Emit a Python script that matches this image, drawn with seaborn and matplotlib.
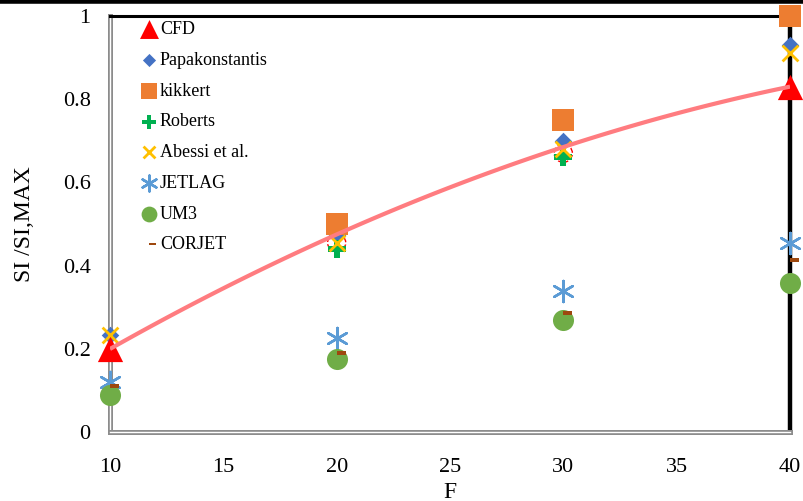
import numpy as np
import pandas as pd
import matplotlib
matplotlib.use("Agg")
import matplotlib.pyplot as plt
import seaborn as sns
from matplotlib.path import Path
from matplotlib.lines import Line2D
import matplotlib.patheffects as pe

# ---------------- data ----------------
F = [10, 20, 30, 40]
cfd_F = [10, 40]
cfd = [0.20, 0.83]
cfd_mid_F = [20, 30]
cfd_mid = [0.455, 0.67]
trend_F = [10, 20, 30, 40]
trend = [0.20, 0.474, 0.686, 0.83]
papakonstantis = [0.233, 0.473, 0.70, 0.93]
kikkert_F = [20, 30, 40]
kikkert = [0.50, 0.75, 1.00]
roberts_F = [20, 30]
roberts = [0.44, 0.66]
abessi = [0.233, 0.455, 0.68, 0.91]
jetlag = [0.12, 0.226, 0.34, 0.455]
um3 = [0.089, 0.175, 0.27, 0.358]
corjet = [0.11, 0.19, 0.285, 0.413]

x_ticks = [10, 15, 20, 25, 30, 35, 40]
y_ticks = [0, 0.2, 0.4, 0.6, 0.8, 1.0]
y_ticklabels = ["0", "0.2", "0.4", "0.6", "0.8", "1"]

# ---------------- style ----------------
sns.set_theme(style="white")
plt.rcParams['font.family'] = ['Liberation Serif', 'DejaVu Serif']

fig = plt.figure(figsize=(8.04, 5.01), dpi=100)
ax = fig.add_axes([0.1368, 0.1377, 0.9826 - 0.1368, 0.968 - 0.1377])

corjet_marker = Path([(0, -0.22), (1, -0.22), (1, 0.22), (0, 0.22), (0, -0.22)],
                     [Path.MOVETO, Path.LINETO, Path.LINETO, Path.LINETO, Path.CLOSEPOLY])

common = dict(ax=ax, clip_on=False, legend=True)

sns.scatterplot(x=cfd_F, y=cfd, marker="^", s=330, color="#FF0000",
                edgecolor="#FF0000", linewidth=0, label="CFD", zorder=4, **common)
sns.scatterplot(x=F, y=papakonstantis, marker="D", s=80, color="#4472C4",
                linewidth=0, label="Papakonstantis", zorder=3, **common)
sns.scatterplot(x=kikkert_F, y=kikkert, marker="s", s=230, color="#ED7D31",
                linewidth=0, label="kikkert", zorder=3, **common)
sns.scatterplot(x=roberts_F, y=roberts, marker="P", s=160, color="#00B050",
                linewidth=0, label="Roberts", zorder=3, **common)
sns.scatterplot(x=F, y=abessi, marker="x", s=130, color="#FFC000",
                linewidth=2, label="Abessi et al.", zorder=3.5, **common)
sns.scatterplot(x=F, y=jetlag, marker=(6, 2, 0), s=230, color="#5B9BD5",
                linewidth=1.8, label="JETLAG", zorder=3, **common)
sns.scatterplot(x=F, y=um3, marker="o", s=230, color="#70AD47",
                linewidth=0, label="UM3", zorder=3, **common)
sns.scatterplot(x=F, y=corjet, marker=corjet_marker, s=170, color="#9E480E",
                linewidth=0, label="CORJET", zorder=3.2, **common)

# dashed red outlines (partly hidden)
ax.scatter(cfd_mid_F, cfd_mid, s=170, facecolors="none", edgecolors="#FF0000",
           linewidths=1.0, linestyle="--", zorder=2.5, clip_on=False)

# polynomial trendline
sns.regplot(x=trend_F, y=trend, order=2, ci=None, scatter=False, ax=ax,
            line_kws=dict(color="#FF7C80", lw=3, zorder=5, solid_capstyle="butt"))

ax.set_xlim(10, 40)
ax.set_ylim(0, 1)
ax.set_xticks(x_ticks)
ax.set_xticklabels([str(t) for t in x_ticks])
ax.set_yticks(y_ticks)
ax.set_yticklabels(y_ticklabels)
ax.tick_params(axis="both", length=0, labelsize=16, colors="#000000")
ax.tick_params(axis="y", pad=14)
ax.tick_params(axis="x", pad=19)
ax.set_xlabel("F", fontsize=17, color="black", labelpad=3)
ax.set_ylabel("SI /SI,MAX", fontsize=17, color="black", labelpad=20)
ax.grid(False)

# spines
for side in ["left", "bottom"]:
    sp = ax.spines[side]
    sp.set_color("white")
    sp.set_linewidth(1.0)
    sp.set_path_effects([pe.Stroke(linewidth=3.6, foreground="#8C8C8C"), pe.Normal()])
    sp.set_zorder(1)
ax.spines["top"].set_color("black")
ax.spines["top"].set_linewidth(2.2)
ax.spines["right"].set_color("black")
ax.spines["right"].set_linewidth(3.2)
ax.spines["right"].set_zorder(1)

# black border at the top of the figure
fig.add_artist(Line2D([0, 1], [0.998, 0.998], transform=fig.transFigure,
                      color="black", lw=4))

leg = ax.legend(loc="upper left", bbox_to_anchor=(0.035, 1.005), frameon=False,
                fontsize=13, labelspacing=0.76, handlelength=0.9, markerscale=0.75,
                handletextpad=0.15, borderaxespad=0.0)
for t in leg.get_texts():
    t.set_color("black")

fig.savefig("out.png", dpi=100)
